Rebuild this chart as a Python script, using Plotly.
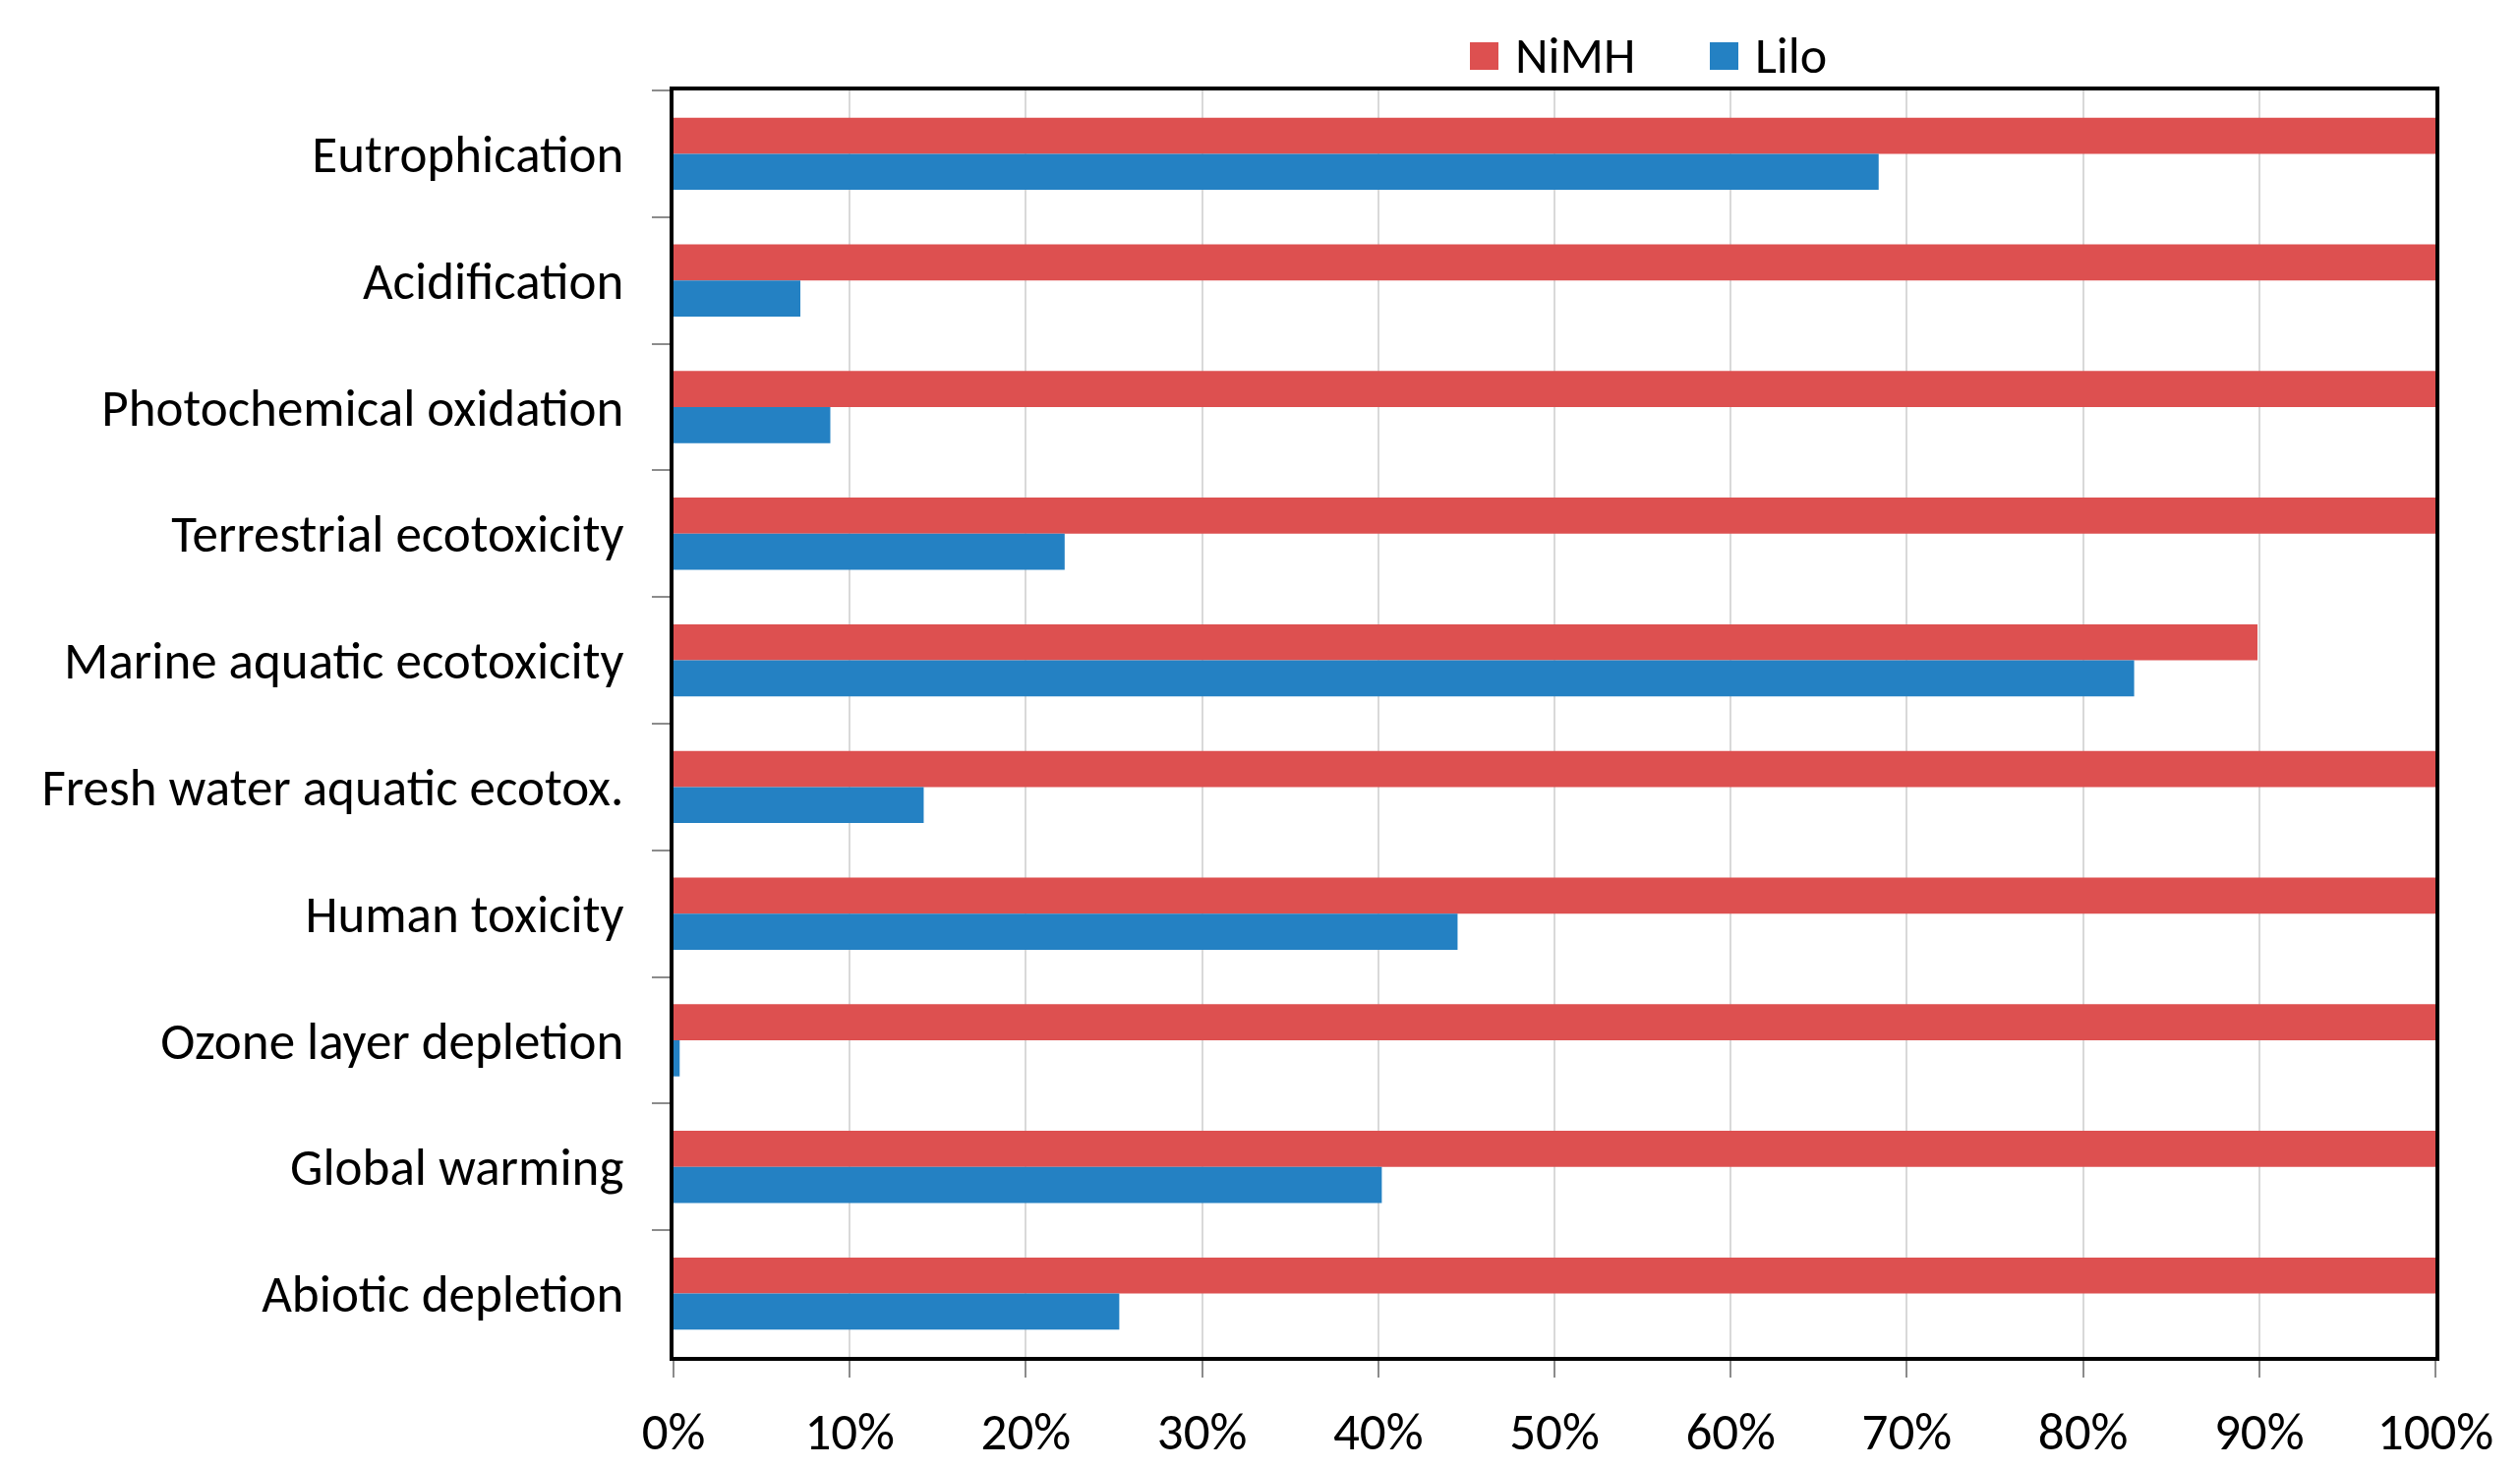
import plotly.graph_objects as go

categories = [
    "Eutrophication",
    "Acidification",
    "Photochemical oxidation",
    "Terrestrial ecotoxicity",
    "Marine aquatic ecotoxicity",
    "Fresh water aquatic ecotox.",
    "Human toxicity",
    "Ozone layer depletion",
    "Global warming",
    "Abiotic depletion",
]
nimh = [100, 100, 100, 100, 89.9, 100, 100, 100, 100, 100]
lilo = [68.4, 7.2, 8.9, 22.2, 82.9, 14.2, 44.5, 0.35, 40.2, 25.3]
x_ticks = list(range(0, 101, 10))

RED = "#DD5050"
BLUE = "#2481C3"
FONT = "Carlito, Liberation Sans Narrow, Liberation Sans, sans-serif"

W, H = 2563, 1494
L, R, T, B = 677, 94, 84, 122
PW = W - L - R
PH = H - T - B


def px(x):
    return (x - L) / PW


def py(y):
    return (H - B - y) / PH


fig = go.Figure()
fig.add_trace(go.Bar(y=categories, x=nimh, name="NiMH", orientation="h",
                     marker=dict(color=RED, line=dict(width=0)), showlegend=False))
fig.add_trace(go.Bar(y=categories, x=lilo, name="Lilo", orientation="h",
                     marker=dict(color=BLUE, line=dict(width=0)), showlegend=False))

shapes = []
annotations = []
for name, color, sx, tx in [("NiMH", RED, 1487, 1531), ("Lilo", BLUE, 1731, 1775)]:
    shapes.append(dict(type="rect", xref="paper", yref="paper",
                       x0=px(sx), x1=px(sx + 29), y0=py(63), y1=py(35),
                       fillcolor=color, line=dict(width=0)))
    annotations.append(dict(text=name, xref="paper", yref="paper",
                            x=px(tx), y=py(48), xanchor="left", yanchor="middle",
                            showarrow=False, font=dict(size=52, color="black", family=FONT)))

fig.update_layout(
    width=W, height=H,
    margin=dict(l=L, r=R, t=T, b=B),
    barmode="group",
    bargap=0.43,
    bargroupgap=0,
    plot_bgcolor="white",
    paper_bgcolor="white",
    font=dict(family=FONT, size=53, color="black"),
    shapes=shapes,
    annotations=annotations,
    xaxis=dict(
        range=[0, 100],
        tickvals=x_ticks,
        ticktext=[f"{v}%" for v in x_ticks],
        showgrid=True, gridcolor="#D9D9D9", gridwidth=2,
        zeroline=False,
        showline=True, linecolor="black", linewidth=4, mirror=True,
        ticks="outside", ticklen=17, tickwidth=2, tickcolor="#8C8C8C",
        ticklabelstandoff=9,
        tickfont=dict(size=53, family=FONT),
    ),
    yaxis=dict(
        autorange="reversed",
        showgrid=False,
        showline=True, linecolor="black", linewidth=4, mirror=True,
        ticks="outside", ticklen=18, tickwidth=2, tickcolor="#8C8C8C",
        tickson="boundaries",
        ticklabelstandoff=36,
        tickfont=dict(size=53, family=FONT),
    ),
)

fig.write_html("out.html")
